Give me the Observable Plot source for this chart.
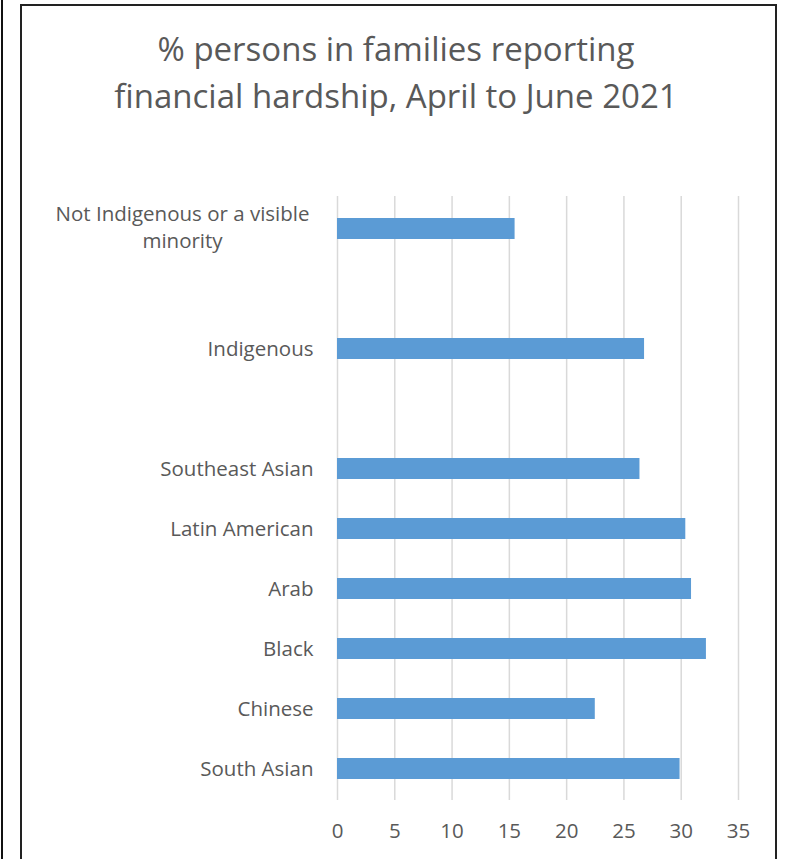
<!DOCTYPE html>
<html>
<head>
<meta charset="utf-8">
<script src="https://cdn.jsdelivr.net/npm/d3@7"></script>
<script src="https://cdn.jsdelivr.net/npm/@observablehq/plot@0.6"></script>
<style>
  html, body { margin: 0; padding: 0; background: #fff; }
  body { width: 792px; height: 859px; position: relative; overflow: hidden; font-family: "Open Sans", sans-serif; }
  #edge { position: absolute; left: 1px; top: 0; width: 2px; height: 859px; background: #111; }
  #frame { position: absolute; left: 20px; top: 4px; width: 757px; height: 900px; border: 2px solid #222; box-sizing: border-box; }
  #title { position: absolute; left: 0; top: 0; width: 792px; height: 150px; text-align: center; color: #595959; font-size: 33px; line-height: 47px; padding-top: 25px; box-sizing: border-box; }
  #chart { position: absolute; left: 0; top: 150px; }
</style>
</head>
<body>
<div id="edge"></div>
<div id="frame"></div>
<div id="title">% persons in families reporting<br>financial hardship, April to June 2021</div>
<div id="chart"></div>
<script>
const categories = ["Not Indigenous or a visible minority", "Indigenous", "Southeast Asian", "Latin American", "Arab", "Black", "Chinese", "South Asian"];
const values = [15.5, 26.8, 26.4, 30.4, 30.9, 32.2, 22.5, 29.9];
const slots = ["Not Indigenous or a visible minority", "gap1", "Indigenous", "gap2", "Southeast Asian", "Latin American", "Arab", "Black", "Chinese", "South Asian"];
const xTicks = [0, 5, 10, 15, 20, 25, 30, 35];

const data = categories.map((c, i) => ({category: c, value: values[i]}));
const wrapped = [{category: categories[0], label: "Not Indigenous or a visible\nminority"}];

const chart = Plot.plot({
  width: 792,
  height: 709,
  marginTop: 46,
  marginBottom: 59,
  marginLeft: 337,
  marginRight: 54,
  style: {fontFamily: "Open Sans, sans-serif", fontSize: "20.5px", color: "#595959", background: "transparent"},
  x: {domain: [0, 35], ticks: xTicks},
  y: {domain: slots, padding: 0.65, paddingOuter: 0.325, align: 0.5},
  marks: [
    Plot.gridX(xTicks, {stroke: "#d9d9d9", strokeOpacity: 1, strokeWidth: 1.5}),
    Plot.barX(data, {x: "value", y: "category", fill: "#5b9bd5"}),
    Plot.axisX({ticks: xTicks, tickSize: 0, tickPadding: 23, fontSize: 20.5, fill: "#595959", label: null}),
    Plot.axisY({ticks: categories.slice(1), tickSize: 0, tickPadding: 24, fontSize: 20.5, fill: "#595959", label: null}),
    Plot.text(wrapped, {y: "category", text: "label", frameAnchor: "left", dx: -155, dy: -3, textAnchor: "middle", lineHeight: 1.32, fontSize: 20.5, fill: "#595959"})
  ]
});
document.getElementById("chart").appendChild(chart);
</script>
</body>
</html>
